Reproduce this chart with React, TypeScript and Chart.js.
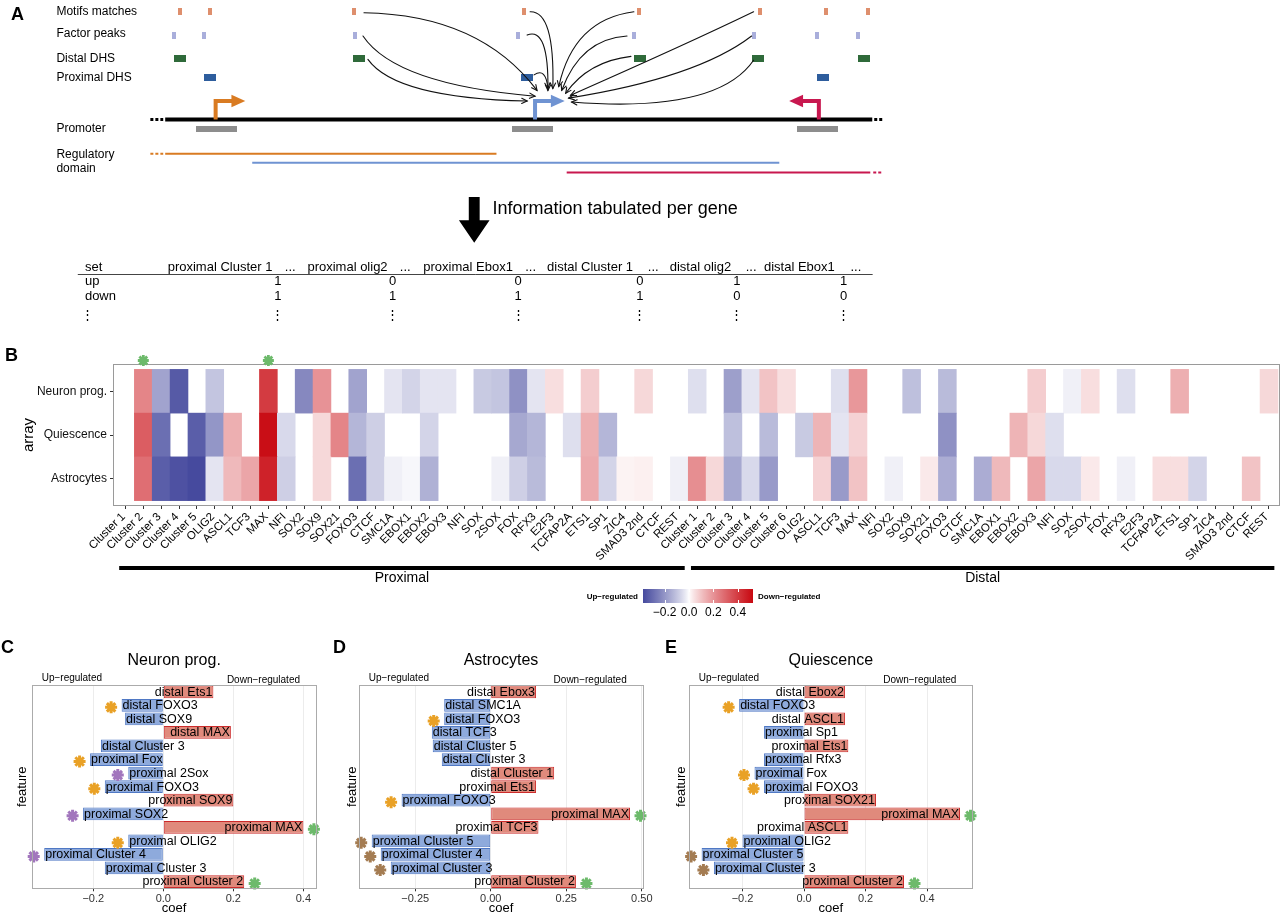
import React, { useEffect, useRef } from 'react';
import { Chart, registerables } from 'chart.js';

Chart.register(...registerables);

const FONT = '"Liberation Sans", Arial, Helvetica, sans-serif';
Chart.defaults.font.family = FONT;
Chart.defaults.color = '#1a1a1a';

/* ================= Panel A : schematic (data in schematic units) ================= */
const TRACK_NAMES = ['Motifs matches', 'Factor peaks', 'Distal DHS', 'Proximal DHS', 'Promoter', 'Regulatory', 'domain'];
const TRACK_NAME_Y = [7, 30, 55, 75, 127, 154, 169];
const TRACK_Y = [7, 31.5, 55.5, 75];
const MOTIF_X = [177, 207, 353, 525, 641, 763, 830, 873];
const FACTOR_X = [171, 201, 354, 519, 636, 757, 821, 863];
const DISTAL_X = [176.5, 358, 642, 761.5, 869];
const PROXIMAL_X = [207, 527.5, 827];
const PROMOTER_X = [213.5, 533, 822];
const PROMOTER_Y = 127.5;
const CHROM_FROM = 162;
const CHROM_TO = 877;
const CHROM_Y = 118;
const TSS_X = [213, 536, 823];
const TSS_DIR = [1, 1, -1];
const TSS_Y = 99;
const GENE_COLORS = ['#d97b22', '#6f93d2', '#c8174f'];
const DOMAIN_FROM = [162, 250, 568];
const DOMAIN_TO = [497, 783, 875];
const DOMAIN_Y = [153.3, 162.7, 172.7];
// [sourceX, sourceY, controlX, controlY, targetX, targetY]
const ARCS = [
  [363, 8, 480, 10, 538, 88],
  [362, 32, 395, 82, 536, 94],
  [367, 56, 395, 96, 528, 99],
  [531, 7, 556, 6, 554, 86],
  [528, 31, 550, 22, 549, 88],
  [535, 72, 547, 64, 549, 86],
  [636, 7, 575, 15, 560, 84],
  [629, 32, 582, 35, 563, 88],
  [633, 53, 590, 58, 567, 91],
  [757, 7, 690, 40, 572, 93],
  [755, 32, 700, 75, 570, 96],
  [757, 57, 720, 112, 573, 100],
];
const ARROW_TEXT = 'Information tabulated per gene';
const TABLE_SET = ['up', 'down'];
const TABLE_HEAD = ['proximal Cluster 1', 'proximal olig2', 'proximal Ebox1', 'distal Cluster 1', 'distal olig2', 'distal Ebox1'];
const TABLE_UP = [1, 0, 0, 0, 1, 1];
const TABLE_DOWN = [1, 1, 1, 1, 0, 0];
// table layout (not data)
const HEAD_X = [164.5, 305.8, 423, 548.2, 672.2, 767.5];
const DOTS_X = [283, 399.3, 526, 650, 749, 855];
const VALUE_X = [276, 392, 519, 642, 740, 848];

/* ================= Panel B : heatmap ================= */
const HEAT_COLS = ['Cluster 1', 'Cluster 2', 'Cluster 3', 'Cluster 4', 'Cluster 5', 'OLIG2', 'ASCL1', 'TCF3', 'MAX', 'NFI', 'SOX2', 'SOX9', 'SOX21', 'FOXO3', 'CTCF', 'SMC1A', 'EBOX1', 'EBOX2', 'EBOX3', 'NFI', 'SOX', '2SOX', 'FOX', 'RFX3', 'E2F3', 'TCFAP2A', 'ETS1', 'SP1', 'ZIC4', 'SMAD3 2nd', 'CTCF', 'REST',
  'Cluster 1', 'Cluster 2', 'Cluster 3', 'Cluster 4', 'Cluster 5', 'Cluster 6', 'OLIG2', 'ASCL1', 'TCF3', 'MAX', 'NFI', 'SOX2', 'SOX9', 'SOX21', 'FOXO3', 'CTCF', 'SMC1A', 'EBOX1', 'EBOX2', 'EBOX3', 'NFI', 'SOX', '2SOX', 'FOX', 'RFX3', 'E2F3', 'TCFAP2A', 'ETS1', 'SP1', 'ZIC4', 'SMAD3 2nd', 'CTCF', 'REST'];
const HEAT_ROWS = ['Astrocytes', 'Quiescence', 'Neuron prog.'];
const HEAT_NEURON = [0, 0.23, -0.17, -0.34, 0, -0.10, 0, 0, 0.40, 0,
  -0.23, 0.20, 0, -0.17, 0, -0.04, -0.07, -0.04, -0.04, 0,
  -0.09, -0.10, -0.21, -0.04, 0.05, 0, 0.08, 0, 0, 0.06,
  0, 0,
  -0.05, 0, -0.18, -0.04, 0.10, 0.05, 0, 0, -0.05, 0.19,
  0, 0, -0.11, 0, -0.12, 0, 0, 0, 0, 0.08,
  0, -0.02, 0.05, 0, -0.05, 0, 0, 0.14, 0, 0,
  0, 0, 0.06];
const HEAT_QUIESCENCE = [0, 0.32, -0.29, 0, -0.33, -0.20, 0.14, 0, 0.51, -0.06,
  0, 0.06, 0.23, -0.13, -0.08, 0, 0, -0.07, 0, 0,
  0, 0, -0.16, -0.13, 0, -0.05, 0.14, -0.13, 0, 0,
  0, 0,
  0, 0, -0.11, 0, -0.12, 0, -0.09, 0.13, -0.04, 0.07,
  0, 0, 0, 0, -0.21, 0, 0, 0, 0.13, 0.06,
  -0.05, 0, 0, 0, 0, 0, 0, 0, 0, 0,
  0, 0, 0];
const HEAT_ASTROCYTES = [0, 0.28, -0.33, -0.36, -0.39, -0.04, 0.12, 0.16, 0.46, -0.08,
  0, 0.06, 0, -0.29, -0.08, -0.02, -0.01, -0.14, 0, 0,
  0, -0.02, -0.08, -0.12, 0, 0, 0.15, -0.07, 0.015, 0.02,
  0, -0.02,
  0.21, 0.06, -0.16, -0.06, -0.19, 0, 0, 0.07, -0.19, 0.10,
  0, -0.02, 0, 0.03, -0.15, 0, -0.15, 0.12, 0, 0.16,
  -0.06, -0.06, 0.03, 0, -0.02, 0, 0.05, 0.05, -0.07, 0,
  0, 0.10, 0];
const HEAT_STAR_COLS = [1, 8];
const GROUP_LABELS = ['Proximal', 'Distal'];
const GROUP_FIRST = [0, 32];
const GROUP_LAST = [31, 64];
const HEAT_LOW = -0.378;
const HEAT_HIGH = 0.525;
const LEGEND_TICKS = [-0.2, 0, 0.2, 0.4];

/* ================= Panels C, D, E : coefficients ================= */
const C_FEATURES = ['distal Ets1', 'distal FOXO3', 'distal SOX9', 'distal MAX', 'distal Cluster 3', 'proximal Fox', 'proximal 2Sox', 'proximal FOXO3', 'proximal SOX9', 'proximal SOX2', 'proximal MAX', 'proximal OLIG2', 'proximal Cluster 4', 'proximal Cluster 3', 'proximal Cluster 2'];
const C_COEFS = [0.143, -0.119, -0.109, 0.193, -0.178, -0.209, -0.100, -0.167, 0.200, -0.229, 0.400, -0.100, -0.340, -0.167, 0.231];
const C_STARS = ['', 'orange', '', '', '', 'orange', 'purple', 'orange', '', 'purple', 'green', 'orange', 'purple', '', 'green'];
const C_TICKS = [-0.2, 0, 0.2, 0.4];

const D_FEATURES = ['distal Ebox3', 'distal SMC1A', 'distal FOXO3', 'distal TCF3', 'distal Cluster 5', 'distal Cluster 3', 'distal Cluster 1', 'proximal Ets1', 'proximal FOXO3', 'proximal MAX', 'proximal TCF3', 'proximal Cluster 5', 'proximal Cluster 4', 'proximal Cluster 3', 'proximal Cluster 2'];
const D_COEFS = [0.150, -0.154, -0.154, -0.195, -0.192, -0.162, 0.210, 0.150, -0.295, 0.461, 0.158, -0.394, -0.364, -0.331, 0.282];
const D_STARS = ['', '', 'orange', '', '', '', '', '', 'orange', 'green', '', 'brown', 'brown', 'brown', 'green'];
const D_TICKS = [-0.25, 0, 0.25, 0.5];

const E_FEATURES = ['distal Ebox2', 'distal FOXO3', 'distal ASCL1', 'proximal Sp1', 'proximal Ets1', 'proximal Rfx3', 'proximal Fox', 'proximal FOXO3', 'proximal SOX21', 'proximal MAX', 'proximal ASCL1', 'proximal OLIG2', 'proximal Cluster 5', 'proximal Cluster 3', 'proximal Cluster 2'];
const E_COEFS = [0.133, -0.211, 0.133, -0.130, 0.144, -0.130, -0.161, -0.130, 0.234, 0.507, 0.144, -0.200, -0.333, -0.293, 0.325];
const E_STARS = ['', 'orange', '', '', '', '', 'orange', 'orange', '', 'green', '', 'orange', 'brown', 'brown', 'green'];
const E_TICKS = [-0.2, 0, 0.2, 0.4];

const STAR_COLORS: Record<string, string> = { orange: '#e9a126', purple: '#a276bd', green: '#6dba6b', brown: '#a47c52' };
const BLUE_FILL = '#8eaadc';
const BLUE_EDGE = '#4f78c4';
const RED_FILL = '#e08a7c';
const RED_EDGE = '#cc2b2b';

const PANELS = [
  { letter: 'C', title: 'Neuron prog.', features: C_FEATURES, coefs: C_COEFS, stars: C_STARS, ticks: C_TICKS, min: -0.374, max: 0.436, decimals: 1,
    left: 0, padL: 16, yW: 16.3, padR: 14, letterX: 1 },
  { letter: 'D', title: 'Astrocytes', features: D_FEATURES, coefs: D_COEFS, stars: D_STARS, ticks: D_TICKS, min: -0.435, max: 0.503, decimals: 2,
    left: 330, padL: 15.5, yW: 13.8, padR: 17.3, letterX: 3 },
  { letter: 'E', title: 'Quiescence', features: E_FEATURES, coefs: E_COEFS, stars: E_STARS, ticks: E_TICKS, min: -0.373, max: 0.547, decimals: 1,
    left: 660, padL: 14.5, yW: 14.8, padR: 17.7, letterX: 5 },
];

/* ================= helpers ================= */
function fmtTick(v: number, d: number) {
  const s = Math.abs(v).toFixed(d);
  return v < 0 ? '\u2212' + s : s;
}

function heatRGB(v: number) {
  const t = Math.pow(Math.min(1, v < 0 ? v / HEAT_LOW : v / HEAT_HIGH), 0.85);
  const c = v < 0 ? [70, 74, 158] : [200, 8, 16];
  return c.map((k) => Math.round(255 + (k - 255) * t));
}
function heatColor(v: number) {
  if (!v) return 'rgba(255,255,255,0)';
  const [r, g, b] = heatRGB(v);
  return `rgb(${r},${g},${b})`;
}

function drawAsterisk(ctx: CanvasRenderingContext2D, x: number, y: number, r: number, color: string, lw: number) {
  ctx.save();
  ctx.strokeStyle = color;
  ctx.lineWidth = lw;
  ctx.lineCap = 'butt';
  ctx.beginPath();
  for (let k = 0; k < 4; k++) {
    const a = (k * Math.PI) / 4 + Math.PI / 2;
    ctx.moveTo(x - r * Math.cos(a), y - r * Math.sin(a));
    ctx.lineTo(x + r * Math.cos(a), y + r * Math.sin(a));
  }
  ctx.stroke();
  ctx.restore();
}

function sprite(w: number, h: number, color: string) {
  const c = document.createElement('canvas');
  c.width = w;
  c.height = h;
  const g = c.getContext('2d')!;
  g.fillStyle = color;
  g.fillRect(0, 0, w, h);
  return c;
}

/* ================= Panel A chart ================= */
const schematicPlugin = {
  id: 'schematic',
  afterDatasetsDraw(chart: any) {
    const { ctx, scales } = chart;
    const X = (v: number) => scales.x.getPixelForValue(v);
    const Y = (v: number) => scales.y.getPixelForValue(v);
    ctx.save();
    // TSS arrows
    TSS_X.forEach((t, i) => {
      const d = TSS_DIR[i];
      ctx.strokeStyle = GENE_COLORS[i];
      ctx.fillStyle = GENE_COLORS[i];
      ctx.lineWidth = 4;
      ctx.lineJoin = 'miter';
      ctx.lineCap = 'butt';
      ctx.beginPath();
      ctx.moveTo(X(t), Y(CHROM_Y));
      ctx.lineTo(X(t), Y(TSS_Y));
      ctx.lineTo(X(t + d * 17), Y(TSS_Y));
      ctx.stroke();
      ctx.beginPath();
      ctx.moveTo(X(t + d * 16), Y(TSS_Y - 6.5));
      ctx.lineTo(X(t + d * 30), Y(TSS_Y));
      ctx.lineTo(X(t + d * 16), Y(TSS_Y + 6.5));
      ctx.closePath();
      ctx.fill();
    });
    // regulatory arcs
    ctx.strokeStyle = '#111';
    ctx.lineWidth = 1.1;
    ctx.lineCap = 'round';
    ARCS.forEach(([sx, sy, cx, cy, tx, ty]) => {
      ctx.beginPath();
      ctx.moveTo(X(sx), Y(sy));
      ctx.quadraticCurveTo(X(cx), Y(cy), X(tx), Y(ty));
      ctx.stroke();
      const ang = Math.atan2(Y(ty) - Y(cy), X(tx) - X(cx));
      ctx.beginPath();
      ctx.moveTo(X(tx) - 6 * Math.cos(ang - 0.45), Y(ty) - 6 * Math.sin(ang - 0.45));
      ctx.lineTo(X(tx), Y(ty));
      ctx.lineTo(X(tx) - 6 * Math.cos(ang + 0.45), Y(ty) - 6 * Math.sin(ang + 0.45));
      ctx.stroke();
    });
    // big down arrow
    ctx.fillStyle = '#000';
    ctx.beginPath();
    ctx.moveTo(X(469), Y(198));
    ctx.lineTo(X(480), Y(198));
    ctx.lineTo(X(480), Y(222));
    ctx.lineTo(X(490), Y(222));
    ctx.lineTo(X(474.5), Y(245));
    ctx.lineTo(X(459), Y(222));
    ctx.lineTo(X(469), Y(222));
    ctx.closePath();
    ctx.fill();
    // texts
    ctx.fillStyle = '#000';
    ctx.textBaseline = 'middle';
    ctx.textAlign = 'left';
    ctx.font = `12px ${FONT}`;
    TRACK_NAMES.forEach((t, i) => ctx.fillText(t, X(52), Y(TRACK_NAME_Y[i])));
    ctx.font = `18px ${FONT}`;
    ctx.fillText(ARROW_TEXT, X(493), Y(210));
    ctx.font = `bold 18px ${FONT}`;
    ctx.textBaseline = 'alphabetic';
    ctx.fillText('A', X(6), Y(15.5));
    // table
    ctx.textBaseline = 'middle';
    ctx.font = `13px ${FONT}`;
    ctx.fillText('set', X(80.8), Y(271));
    TABLE_HEAD.forEach((h, i) => {
      ctx.textAlign = 'left';
      ctx.fillText(h, X(HEAD_X[i]), Y(271));
      ctx.fillText('...', X(DOTS_X[i]), Y(271));
    });
    ctx.strokeStyle = '#444';
    ctx.lineWidth = 1;
    ctx.beginPath();
    ctx.moveTo(X(74), Math.round(Y(277.3)) + 0.5);
    ctx.lineTo(X(877), Math.round(Y(277.3)) + 0.5);
    ctx.stroke();
    const rowsY = [285, 300];
    TABLE_SET.forEach((s, r) => {
      ctx.textAlign = 'left';
      ctx.fillText(s, X(80.8), Y(rowsY[r]));
      const vals = r === 0 ? TABLE_UP : TABLE_DOWN;
      ctx.textAlign = 'center';
      vals.forEach((v, i) => ctx.fillText(String(v), X(VALUE_X[i]), Y(rowsY[r])));
    });
    ctx.textAlign = 'center';
    ctx.fillText('\u22EE', X(83), Y(320));
    VALUE_X.forEach((vx) => ctx.fillText('\u22EE', X(vx), Y(320)));
    ctx.restore();
  },
};

function buildSchematic() {
  const pt = (xs: number[], y: number) => xs.map((x) => ({ x, y }));
  const seg = (x1: number, x2: number, y: number) => [{ x: x1, y }, { x: x2, y }];
  const line = (data: any, color: string, width: number, dash: number[] = []) => ({
    type: 'line', data, borderColor: color, borderWidth: width, borderDash: dash, pointRadius: 0, borderCapStyle: 'butt', fill: false,
  });
  const marks = (data: any, img: any) => ({ type: 'scatter', data, pointStyle: img, pointRadius: 4, pointHoverRadius: 4 });
  return {
    type: 'scatter',
    data: {
      datasets: [
        marks(pt(MOTIF_X, TRACK_Y[0]), sprite(4, 7, '#de8f6d')),
        marks(pt(FACTOR_X, TRACK_Y[1]), sprite(4, 7, '#a9aedb')),
        marks(pt(DISTAL_X, TRACK_Y[2]), sprite(12, 7, '#2f6a3a')),
        marks(pt(PROXIMAL_X, TRACK_Y[3]), sprite(12, 7, '#2e5d9d')),
        marks(pt(PROMOTER_X, PROMOTER_Y), sprite(41, 6, '#8d8d8d')),
        line(seg(CHROM_FROM, CHROM_TO, CHROM_Y), '#000', 4),
        line(seg(CHROM_FROM - 15, CHROM_FROM - 2, CHROM_Y), '#000', 3, [3, 2]),
        line(seg(CHROM_TO + 2, CHROM_TO + 11, CHROM_Y), '#000', 3, [3, 2]),
        ...DOMAIN_FROM.map((f, i) => line(seg(f, DOMAIN_TO[i], DOMAIN_Y[i]), GENE_COLORS[i], 2)),
        line(seg(DOMAIN_FROM[0] - 15, DOMAIN_FROM[0] - 2, DOMAIN_Y[0]), GENE_COLORS[0], 2, [3, 2]),
        line(seg(DOMAIN_TO[2] + 3, DOMAIN_TO[2] + 13, DOMAIN_Y[2]), GENE_COLORS[2], 2, [3, 2]),
      ],
    },
    options: {
      responsive: false, animation: false, events: [],
      layout: { padding: 0 },
      plugins: { legend: { display: false }, tooltip: { enabled: false } },
      scales: {
        x: { type: 'linear', min: 0, max: 900, display: false },
        y: { type: 'linear', min: 0, max: 335, reverse: true, display: false },
      },
    },
    plugins: [schematicPlugin],
  };
}

/* ================= Panel B chart ================= */
const heatPlugin = {
  id: 'heatDecor',
  afterDraw(chart: any) {
    const { ctx, chartArea: a, scales } = chart;
    const x = scales.x;
    ctx.save();
    ctx.strokeStyle = '#9a9a9a';
    ctx.lineWidth = 1;
    ctx.strokeRect(Math.round(a.left) - 0.5, Math.round(a.top) - 0.5, Math.round(a.right - a.left) + 1, Math.round(a.bottom - a.top) + 1);
    HEAT_STAR_COLS.forEach((c) => drawAsterisk(ctx, x.getPixelForValue(c), a.top - 4.5, 5.5, STAR_COLORS.green, 2.8));
    ctx.fillStyle = '#000';
    ctx.textAlign = 'center';
    ctx.textBaseline = 'middle';
    ctx.font = `14px ${FONT}`;
    GROUP_LABELS.forEach((g, i) => {
      const x1 = x.getPixelForValue(GROUP_FIRST[i] - 0.35);
      const x2 = Math.min(a.right - 1, x.getPixelForValue(GROUP_LAST[i] + 0.3));
      const yy = a.bottom + 63;
      ctx.fillRect(x1, yy - 2, x2 - x1, 4);
      ctx.fillText(g, (x1 + x2) / 2, yy + 10.5);
    });
    ctx.font = `bold 18px ${FONT}`;
    ctx.textAlign = 'left';
    ctx.textBaseline = 'alphabetic';
    ctx.fillText('B', 5, 21);
    ctx.restore();
  },
};

function buildHeatmap() {
  const rowValues = [HEAT_ASTROCYTES, HEAT_QUIESCENCE, HEAT_NEURON];
  return {
    type: 'bar',
    data: {
      datasets: rowValues.map((vals, r) => ({
        label: HEAT_ROWS[r],
        data: vals.map((v, i) => ({ x: i, y: [r - 0.5, r + 0.5] })),
        backgroundColor: vals.map(heatColor),
        borderWidth: 0,
        barPercentage: 1,
        categoryPercentage: 1,
        grouped: false,
      })),
    },
    options: {
      responsive: false, animation: false, events: [],
      layout: { padding: { left: 20, right: 1, top: 25, bottom: 0 } },
      plugins: { legend: { display: false }, tooltip: { enabled: false } },
      scales: {
        x: {
          type: 'linear', min: -0.64, max: 64.56, offset: false,
          afterBuildTicks: (s: any) => { s.ticks = HEAT_COLS.map((_, i) => ({ value: i })); },
          afterFit: (s: any) => { s.height = 135; },
          ticks: { autoSkip: false, maxRotation: 45, minRotation: 45, callback: (v: any) => HEAT_COLS[v], font: { size: 11.5 }, color: '#000', padding: 1, labelOffset: -2 },
          grid: { offset: false, drawOnChartArea: false, drawTicks: true, tickLength: 4, tickColor: '#333' },
          border: { display: false },
        },
        y: {
          type: 'linear', min: -0.6, max: 2.6,
          afterBuildTicks: (s: any) => { s.ticks = HEAT_ROWS.map((_, i) => ({ value: i })); },
          afterFit: (s: any) => { s.width = 94; },
          ticks: { callback: (v: any) => HEAT_ROWS[v], font: { size: 12 }, color: '#111', padding: 3 },
          grid: { drawOnChartArea: false, drawTicks: true, tickLength: 4, tickColor: '#333' },
          border: { display: false },
          title: { display: true, text: 'array', font: { size: 15, lineHeight: 1 }, color: '#000', padding: { top: 1.5, bottom: 0 } },
        },
      },
    },
    plugins: [heatPlugin],
  };
}

/* ================= Panel B colour legend ================= */
const legendPlugin = {
  id: 'legendDecor',
  beforeDatasetsDraw(chart: any) {
    const xs = chart.scales.x;
    const x1 = xs.getPixelForValue(HEAT_LOW);
    const x2 = xs.getPixelForValue(HEAT_HIGH);
    if (!isFinite(x1) || !isFinite(x2)) return;
    const g = chart.ctx.createLinearGradient(x1, 0, x2, 0);
    const n = 60;
    for (let k = 0; k <= n; k++) {
      const v = HEAT_LOW + ((HEAT_HIGH - HEAT_LOW) * k) / n;
      const [r, gg, b] = heatRGB(v);
      g.addColorStop(k / n, `rgb(${r},${gg},${b})`);
    }
    const meta = chart.getDatasetMeta(0);
    meta.data.forEach((el: any) => { if (el.options) el.options.backgroundColor = g; });
  },
  afterDraw(chart: any) {
    const { ctx, chartArea: a, scales } = chart;
    ctx.save();
    ctx.strokeStyle = '#fff';
    ctx.lineWidth = 1;
    LEGEND_TICKS.forEach((t) => {
      const px = Math.round(scales.x.getPixelForValue(t)) + 0.5;
      ctx.beginPath();
      ctx.moveTo(px, a.top); ctx.lineTo(px, a.top + 3);
      ctx.moveTo(px, a.bottom - 3); ctx.lineTo(px, a.bottom);
      ctx.stroke();
    });
    ctx.fillStyle = '#000';
    ctx.font = `bold 8px ${FONT}`;
    ctx.textBaseline = 'middle';
    const cy = (a.top + a.bottom) / 2 + 1;
    ctx.textAlign = 'right';
    ctx.fillText('Up\u2212regulated', a.left - 5, cy);
    ctx.textAlign = 'left';
    ctx.fillText('Down\u2212regulated', a.right + 5, cy);
    ctx.restore();
  },
};

function buildLegend() {
  return {
    type: 'bar',
    data: {
      labels: [''],
      datasets: [{
        data: [[HEAT_LOW, HEAT_HIGH]],
        borderWidth: 0,
        barPercentage: 1,
        categoryPercentage: 1,
        backgroundColor: '#cccccc',
      }],
    },
    options: {
      indexAxis: 'y', responsive: false, animation: false, events: [],
      layout: { padding: { left: 83, right: 107, top: 9, bottom: 0 } },
      plugins: { legend: { display: false }, tooltip: { enabled: false } },
      scales: {
        x: {
          type: 'linear', min: HEAT_LOW, max: HEAT_HIGH, offset: false,
          afterBuildTicks: (s: any) => { s.ticks = LEGEND_TICKS.map((v) => ({ value: v })); },
          afterFit: (s: any) => { s.height = 22; },
          ticks: { callback: (v: any) => fmtTick(Number(v), 1), font: { size: 12 }, color: '#000', padding: 2, maxRotation: 0 },
          grid: { display: false, drawTicks: false, tickLength: 0 },
          border: { display: false },
        },
        y: { display: false },
      },
    },
    plugins: [legendPlugin],
  };
}

/* ================= Panels C / D / E charts ================= */
function barPanelPlugin(p: any) {
  return {
    id: 'barPanel',
    afterDatasetsDraw(chart: any) {
      const { ctx } = chart;
      const meta = chart.getDatasetMeta(0);
      ctx.save();
      meta.data.forEach((bar: any, i: number) => {
        const v = p.coefs[i];
        const pos = v >= 0;
        ctx.font = `12.5px ${FONT}`;
        ctx.textBaseline = 'middle';
        ctx.fillStyle = '#000';
        ctx.textAlign = pos ? 'right' : 'left';
        ctx.fillText(p.features[i], bar.x + (pos ? -1 : 1), bar.y + 0.5);
        const star = p.stars[i];
        if (star) drawAsterisk(ctx, bar.x + (pos ? 10.5 : -10.5), bar.y + 2, 6, STAR_COLORS[star], 3);
      });
      ctx.restore();
    },
    afterDraw(chart: any) {
      const { ctx, chartArea: a } = chart;
      ctx.save();
      ctx.strokeStyle = '#ababab';
      ctx.lineWidth = 1;
      const l = Math.round(a.left) + 0.5, t = Math.round(a.top) + 0.5;
      ctx.strokeRect(l, t, Math.round(a.right) - Math.round(a.left), Math.round(a.bottom) - Math.round(a.top));
      ctx.fillStyle = '#000';
      ctx.textBaseline = 'middle';
      ctx.textAlign = 'center';
      ctx.font = `16px ${FONT}`;
      ctx.fillText(p.title, (a.left + a.right) / 2, a.top - 24);
      ctx.font = `10px ${FONT}`;
      ctx.textAlign = 'left';
      ctx.fillText('Up\u2212regulated', a.left + 9.4, a.top - 7);
      ctx.textAlign = 'right';
      ctx.fillText('Down\u2212regulated', a.right - 16, a.top - 5);
      ctx.font = `bold 18px ${FONT}`;
      ctx.textAlign = 'left';
      ctx.textBaseline = 'alphabetic';
      ctx.fillText(p.letter, p.letterX, 13);
      ctx.restore();
    },
  };
}

function buildBar(p: any) {
  return {
    type: 'bar',
    data: {
      labels: p.features,
      datasets: [{
        data: p.coefs,
        backgroundColor: p.coefs.map((v: number) => (v >= 0 ? RED_FILL : BLUE_FILL)),
        borderColor: p.coefs.map((v: number) => (v >= 0 ? RED_EDGE : BLUE_EDGE)),
        borderWidth: 1,
        borderSkipped: false,
        categoryPercentage: 1,
        barPercentage: 0.94,
      }],
    },
    options: {
      indexAxis: 'y', responsive: false, animation: false, events: [],
      layout: { padding: { left: p.padL, right: p.padR, top: 45, bottom: 0 } },
      plugins: { legend: { display: false }, tooltip: { enabled: false } },
      scales: {
        x: {
          type: 'linear', min: p.min, max: p.max,
          afterBuildTicks: (s: any) => { s.ticks = p.ticks.map((v: number) => ({ value: v })); },
          afterFit: (s: any) => { s.height = 24.7; },
          ticks: { callback: (v: any) => fmtTick(Number(v), p.decimals), font: { size: 11 }, color: '#333', padding: 1, maxRotation: 0 },
          grid: { color: '#ececec', lineWidth: 1, drawTicks: true, tickLength: 3, tickColor: '#333' },
          border: { display: false },
          title: { display: true, text: 'coef', font: { size: 13, lineHeight: 1 }, color: '#000', padding: { top: 0, bottom: -2 } },
        },
        y: {
          type: 'category',
          ticks: { display: false },
          grid: { display: false },
          border: { display: false },
          afterFit: (s: any) => { s.width = p.yW; },
          title: { display: true, text: 'feature', font: { size: 13, lineHeight: 1 }, color: '#000', padding: 0 },
        },
      },
    },
    plugins: [barPanelPlugin(p)],
  };
}

/* ================= React ================= */
function ChartCanvas({ left, top, width, height, build }: any) {
  const ref = useRef<HTMLCanvasElement | null>(null);
  useEffect(() => {
    if (!ref.current) return;
    let chart: any = null;
    try {
      chart = new Chart(ref.current, build());
    } catch (e) {
      console.error(e);
    }
    return () => { if (chart) chart.destroy(); };
  }, []);
  return <canvas ref={ref} width={width} height={height} style={{ position: 'absolute', left, top, width, height }} />;
}

export default function App() {
  return (
    <div style={{ position: 'absolute', left: 0, top: 0, width: 1280, height: 913, background: '#fff', overflow: 'hidden' }}>
      <ChartCanvas left={0} top={0} width={900} height={335} build={buildSchematic} />
      <ChartCanvas left={0} top={340} width={1280} height={300} build={buildHeatmap} />
      <ChartCanvas left={560} top={580} width={300} height={45} build={buildLegend} />
      {PANELS.map((p) => (
        <ChartCanvas key={p.letter} left={p.left} top={640} width={330} height={273} build={() => buildBar(p)} />
      ))}
    </div>
  );
}
